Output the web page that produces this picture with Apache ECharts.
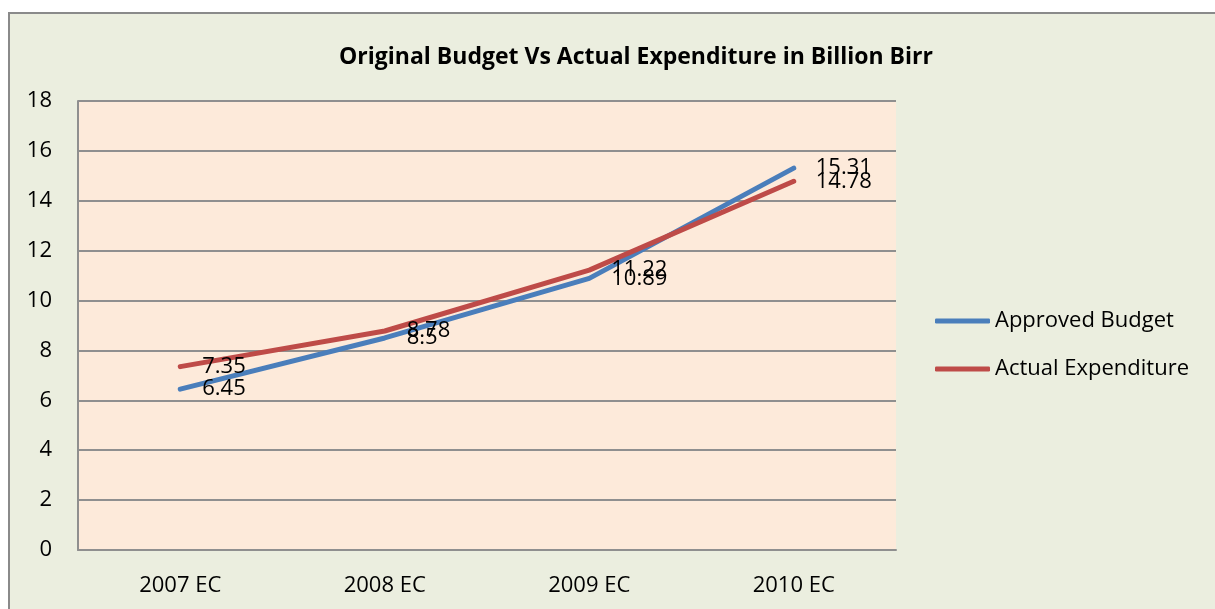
<!DOCTYPE html>
<html>
<head>
<meta charset="utf-8">
<script src="https://cdn.jsdelivr.net/npm/echarts@6/dist/echarts.min.js"></script>
<style>
    html, body { margin: 0; padding: 0; background: #ffffff; overflow: hidden; }
    #frame {
        position: absolute; left: 8px; top: 12px; width: 1205px; height: 595px;
        background: #EBEEDF; border-left: 2px solid #8a8a8a; border-top: 2px solid #8a8a8a;
    }
    #chart { position: absolute; left: 0; top: 0; width: 1215px; height: 609px; }
</style>
</head>
<body>
<div id="frame"></div>
<div id="chart"></div>
<script>
// chart data
const years = ["2007 EC", "2008 EC", "2009 EC", "2010 EC"];
const approvedBudget = [6.45, 8.5, 10.89, 15.31];
const actualExpenditure = [7.35, 8.78, 11.22, 14.78];
const titleText = "Original Budget Vs Actual Expenditure in Billion Birr";

const font = "'Open Sans', sans-serif";
const gridColor = "#8f8f8f";

const myChart = echarts.init(document.getElementById("chart"));

// shared look of both lines
const lineSeries = (name, data, color) => ({
    name: name,
    type: "line",
    data: data,
    symbol: "circle",
    symbolSize: 4,
    color: color,
    lineStyle: { width: 5, color: color, cap: "round", join: "round" },
    itemStyle: { color: color },
    label: {
        show: true,
        position: "right",
        distance: 20,
        color: "#000",
        fontFamily: font,
        fontSize: 22,
    },
    emphasis: { disabled: true },
});

const option = {
    backgroundColor: "transparent",
    animation: false,
    title: {
        text: titleText,
        left: 631,
        textAlign: "center",
        top: 41,
        textStyle: {
            fontFamily: font,
            fontSize: 23,
            fontWeight: "bold",
            color: "#000",
        },
    },
    legend: {
        orient: "vertical",
        left: 930,
        top: 303,
        itemWidth: 55,
        itemHeight: 5,
        itemGap: 22,
        icon: "roundRect",
        data: ["Approved Budget", "Actual Expenditure"],
        textStyle: { fontFamily: font, fontSize: 22, lineHeight: 26, color: "#000" },
    },
    grid: {
        left: 78,
        right: 319,
        top: 101,
        bottom: 59,
        show: true,
        backgroundColor: "#FDEADA",
        borderWidth: 0,
    },
    xAxis: {
        type: "category",
        data: years,
        boundaryGap: true,
        axisTick: { show: false },
        axisLine: { show: true, lineStyle: { color: gridColor, width: 2 } },
        axisLabel: { color: "#000", fontFamily: font, fontSize: 22, margin: 25 },
    },
    yAxis: {
        type: "value",
        min: 0,
        max: 18,
        interval: 2,
        axisTick: { show: false },
        axisLine: { show: true, lineStyle: { color: gridColor, width: 2 } },
        axisLabel: { color: "#000", fontFamily: font, fontSize: 22, margin: 26 },
        splitLine: { show: true, lineStyle: { color: gridColor, width: 2 } },
    },
    series: [
        lineSeries("Approved Budget", approvedBudget, "#4A7EBB"),
        lineSeries("Actual Expenditure", actualExpenditure, "#BE4B48"),
    ],
};

myChart.setOption(option);
</script>
</body>
</html>
